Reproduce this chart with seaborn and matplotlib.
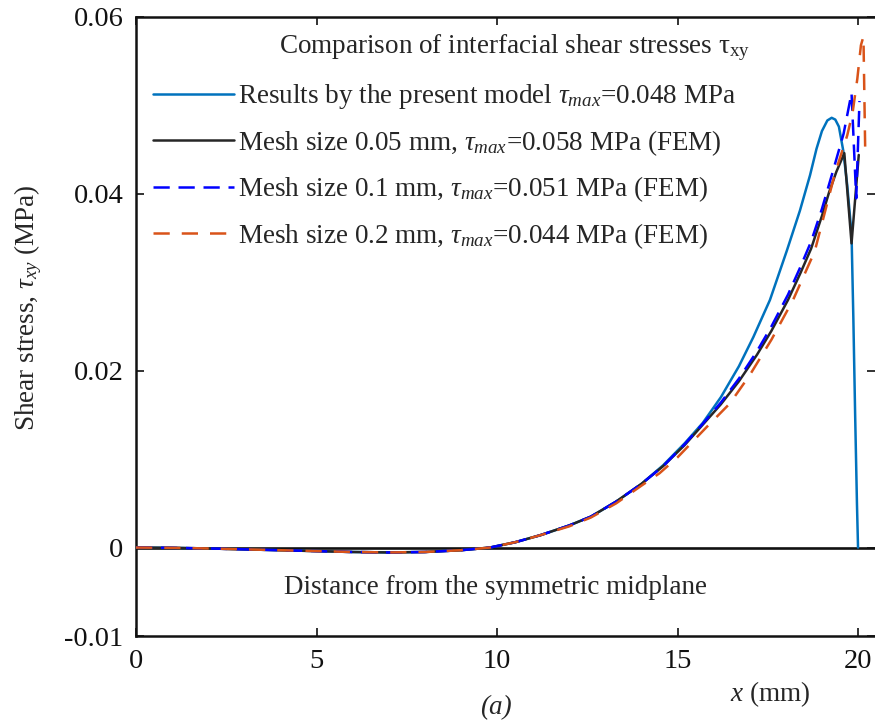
import numpy as np
import pandas as pd
import matplotlib
matplotlib.use("Agg")
import matplotlib.pyplot as plt
import seaborn as sns
from matplotlib.ticker import FixedLocator, FixedFormatter

# ---------------- data ----------------
x_model = [0, 1, 2, 3, 4, 5, 6, 7, 8, 9, 9.8, 10.5, 11.2, 12, 12.6, 13.3, 14, 14.6,
           15.2, 15.7, 16.2, 16.7, 17.1, 17.56, 18.03, 18.39, 18.67, 18.85, 19.0, 19.15,
           19.27, 19.37, 19.47, 19.59, 19.7, 19.82, 19.87, 19.92, 19.97, 20.0]
tau_model = [0, -0.00003, -0.0001, -0.0002, -0.0003, -0.0004, -0.0005, -0.00055, -0.0005,
             -0.0003, 0, 0.0006, 0.0014, 0.0025, 0.0035, 0.0052, 0.0072, 0.0093,
             0.0118, 0.0141, 0.0170, 0.0205, 0.0238, 0.0280, 0.0336, 0.0381, 0.0421, 0.0451,
             0.0471, 0.0483, 0.0486, 0.0484, 0.0476, 0.0449, 0.0410, 0.0355, 0.0260, 0.0150,
             0.0050, 0.0]

x_m005 = [0, 1, 2, 3, 4, 5, 6, 7, 8, 9, 9.8, 10.5, 11.2, 12, 12.6, 13.3, 14, 14.6,
          15.2, 15.7, 16.2, 16.7, 17.2, 17.6, 18.06, 18.4, 18.7, 19.0, 19.2, 19.4,
          19.62, 19.82, 20.02]
tau_m005 = [0, -0.00003, -0.0001, -0.0002, -0.0003, -0.0004, -0.0005, -0.00055, -0.0005,
            -0.0003, 0, 0.0006, 0.0014, 0.0025, 0.0035, 0.0052, 0.0072, 0.0092,
            0.0116, 0.0139, 0.0162, 0.0188, 0.0218, 0.0245, 0.0280, 0.0310, 0.0338, 0.0375,
            0.0402, 0.0425, 0.0446, 0.0344, 0.0444]

x_m01 = [0, 1, 2, 3, 4, 5, 6, 7, 8, 9, 9.8, 10.5, 11.2, 12, 12.6, 13.3, 14, 14.6,
         15.2, 15.7, 16.2, 16.7, 17.2, 17.6, 18.06, 18.4, 18.7, 19.0, 19.3, 19.6,
         19.82, 19.95, 20.04]
tau_m01 = [0, -0.00003, -0.0001, -0.0002, -0.0003, -0.0004, -0.0005, -0.00055, -0.0005,
           -0.0003, 0, 0.0006, 0.0014, 0.0025, 0.0035, 0.0052, 0.0072, 0.0092,
           0.0117, 0.0140, 0.0164, 0.0191, 0.0222, 0.0250, 0.0286, 0.0317, 0.0346, 0.0383,
           0.0425, 0.0468, 0.0514, 0.0395, 0.0505]

x_m02 = [0, 1, 2, 3, 4, 5, 6, 7, 8, 9, 9.8, 10.5, 11.2, 12, 12.6, 13.3, 14, 14.5,
         15.0, 15.8, 16.45, 17.0, 17.6, 18.2, 18.8, 19.36, 19.7, 19.85, 19.98, 20.08,
         20.15, 20.2]
tau_m02 = [0, -0.00003, -0.0001, -0.0002, -0.0003, -0.0004, -0.0005, -0.00055, -0.0005,
           -0.0003, 0, 0.0006, 0.0014, 0.0024, 0.0034, 0.0050, 0.0070, 0.0084,
           0.0102, 0.0136, 0.0163, 0.0195, 0.0235, 0.0280, 0.0335, 0.0423, 0.0466,
           0.0492, 0.0530, 0.0568, 0.0578, 0.0446]

labels = [r"Results by the present model $\tau_{max}$=0.048 MPa",
          r"Mesh size 0.05 mm, $\tau_{max}$=0.058 MPa (FEM)",
          r"Mesh size 0.1 mm, $\tau_{max}$=0.051 MPa (FEM)",
          r"Mesh size 0.2 mm, $\tau_{max}$=0.044 MPa (FEM)"]

x_ticks = [0, 5, 10, 15, 20]
y_ticks = [0.06, 0.04, 0.02, 0, -0.01]
y_tick_labels = ["0.06", "0.04", "0.02", "0", "-0.01"]

# ---------------- style ----------------
sns.set_theme(style="white")
plt.rcParams["font.family"] = ["Liberation Serif", "DejaVu Serif"]
plt.rcParams["mathtext.fontset"] = "custom"
plt.rcParams["mathtext.rm"] = "Liberation Serif"
plt.rcParams["mathtext.it"] = "Liberation Serif:italic"
plt.rcParams["mathtext.bf"] = "Liberation Serif:bold"

FS = 19.5

fig = plt.figure(figsize=(8.75, 7.25), dpi=100)
ax = fig.add_axes([136 / 875, 89 / 725, 739 / 875, 619 / 725])

ax.axhline(0, color="#111111", lw=1.9, zorder=1)

series = [
    (x_model, tau_model, "#0072BD", None),
    (x_m005, tau_m005, "#262626", None),
    (x_m01, tau_m01, "#0000FF", (6.5, 3.5)),
    (x_m02, tau_m02, "#D95319", (6.5, 4.8)),
]
handles = []
for (xs, ys, col, dash), lab in zip(series, labels):
    df = pd.DataFrame({"x": xs, "tau": ys})
    n_before = len(ax.lines)
    sns.lineplot(data=df, x="x", y="tau", color=col, lw=1.8, sort=False,
                 estimator=None, ax=ax, zorder=3)
    ln = ax.lines[n_before]
    if dash is not None:
        ln.set_dashes(dash)
    ln.set_label(lab)
    handles.append(ln)

ax.set_xlim(0, 20.47)
ax.set_ylim(-0.01, 0.06)
ax.xaxis.set_major_locator(FixedLocator(x_ticks))
ax.yaxis.set_major_locator(FixedLocator(y_ticks))
ax.yaxis.set_major_formatter(FixedFormatter(y_tick_labels))
ax.tick_params(direction="in", length=6, width=1.2, labelsize=20.5, pad=9,
               top=True, right=True, bottom=True, left=True, colors="#111111")

for side in ["left", "bottom", "top"]:
    ax.spines[side].set_color("#111111")
    ax.spines[side].set_linewidth(1.8)
ax.spines["right"].set_visible(False)

ax.set_xlabel(r"$x$ (mm)", fontsize=FS)
ax.xaxis.set_label_coords((770 - 136) / 739, (636 - 679) / 619)
ax.set_ylabel(r"Shear stress, $\tau_{xy}$ (MPa)", fontsize=FS)
ax.yaxis.set_label_coords((44 - 136) / 739, (636 - 308) / 619)

ax.text((515 - 136) / 739, (636 - 48) / 619,
        r"Comparison of interfacial shear stresses $\mathrm{\tau_{xy}}$",
        transform=ax.transAxes, ha="center", va="center", fontsize=FS)
ax.text((496 - 136) / 739, (636 - 587) / 619, "Distance from the symmetric midplane",
        transform=ax.transAxes, ha="center", va="center", fontsize=FS)
fig.text(496 / 875, 1 - 708 / 725, "(a)", style="italic", ha="center", va="center",
         fontsize=FS)

leg = ax.legend(handles=handles, labels=labels, loc="upper left",
                bbox_to_anchor=((153 - 136) / 739, (636 - 82) / 619),
                frameon=False, fontsize=FS, handlelength=3.0, handletextpad=0.15,
                labelspacing=0.62, borderpad=0, borderaxespad=0)

fig.savefig("out.png", dpi=100)
